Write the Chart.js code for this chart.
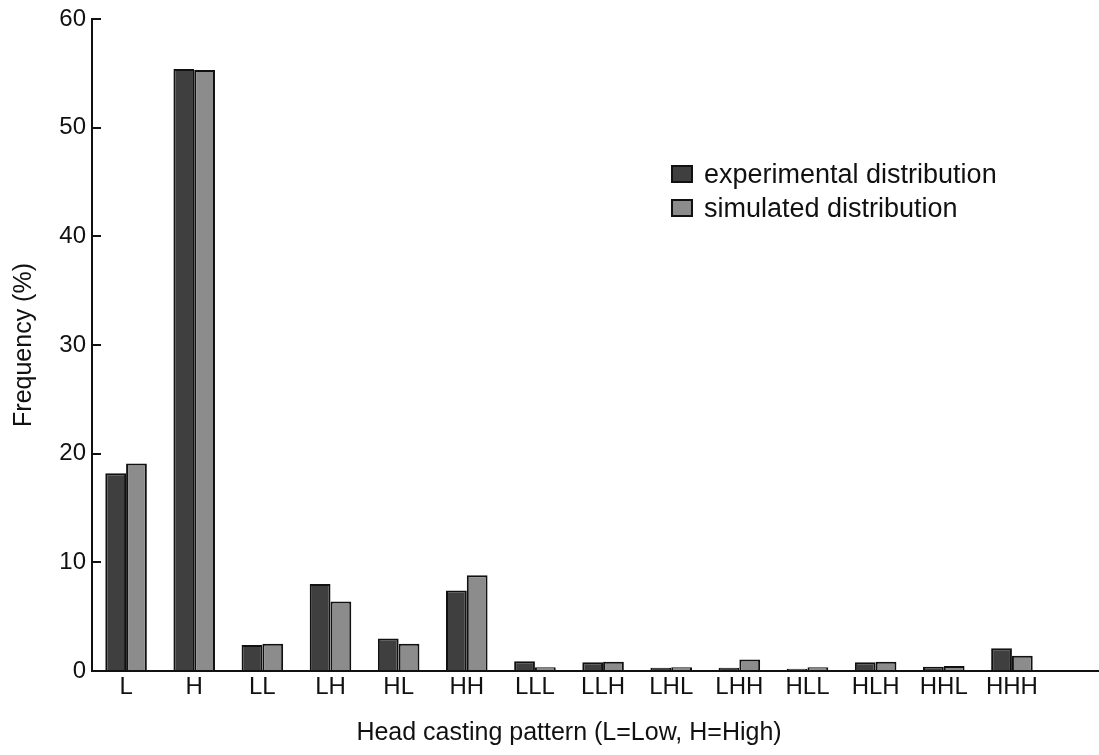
<!DOCTYPE html>
<html>
<head>
<meta charset="utf-8">
<script src="https://cdn.jsdelivr.net/npm/chart.js@4.4.1/dist/chart.umd.min.js"></script>
<style>
  body { margin: 0; background: #fff; }
  #wrap { position: relative; width: 1099px; height: 755px; }
  #legend { position: absolute; left: 671px; top: 157px; font-family: "Liberation Sans", Arial, sans-serif; font-size: 27px; color: #111; }
  #legend .item { display: flex; align-items: center; height: 34px; white-space: nowrap; }
  #legend .box { width: 22px; height: 18px; border: 2px solid #111; box-sizing: border-box; margin-right: 11px; }
</style>
</head>
<body>
<div id="wrap">
  <canvas id="chart" width="1099" height="755"></canvas>
  <div id="legend"></div>
</div>
<script>
// data
var categories = ['L', 'H', 'LL', 'LH', 'HL', 'HH', 'LLL', 'LLH', 'LHL', 'LHH', 'HLL', 'HLH', 'HHL', 'HHH'];
var experimental = [18.2, 55.4, 2.4, 8.0, 3.0, 7.4, 0.9, 0.8, 0.3, 0.3, 0.2, 0.8, 0.4, 2.1];
var simulated = [19.1, 55.3, 2.5, 6.4, 2.5, 8.8, 0.35, 0.85, 0.35, 1.05, 0.35, 0.85, 0.45, 1.4];
var yTicks = [0, 10, 20, 30, 40, 50, 60];

var family = "'Liberation Sans', Arial, sans-serif";
var ink = '#111';

// the x axis line runs on to the right edge in the original
var extendBaseline = {
    id: 'extendBaseline',
    afterDraw: function(chart) {
        var ctx = chart.ctx;
        var area = chart.chartArea;
        ctx.save();
        ctx.strokeStyle = ink;
        ctx.lineWidth = 2;
        ctx.beginPath();
        ctx.moveTo(area.right - 1, area.bottom);
        ctx.lineTo(chart.width, area.bottom);
        ctx.stroke();
        ctx.restore();
    }
};

var chart = new Chart(document.getElementById('chart').getContext('2d'), {
    type: 'bar',
    data: {
        labels: categories,
        datasets: [{
            label: 'experimental distribution',
            data: experimental,
            backgroundColor: '#3f3f3f',
            borderColor: ink,
            borderWidth: 2,
            barPercentage: 1,
            categoryPercentage: 0.61
        }, {
            label: 'simulated distribution',
            data: simulated,
            backgroundColor: '#8c8c8c',
            borderColor: ink,
            borderWidth: 2,
            barPercentage: 1,
            categoryPercentage: 0.61
        }]
    },
    options: {
        responsive: false,
        animation: false,
        devicePixelRatio: 1,
        layout: { padding: { top: 19, right: 53, left: 0, bottom: 0 } },
        plugins: {
            legend: { display: false },
            tooltip: { enabled: false }
        },
        scales: {
            x: {
                grid: { display: false, drawTicks: false },
                border: { color: ink, width: 2 },
                ticks: { padding: 2, color: ink, autoSkip: false, maxRotation: 0, font: { family: family, size: 24 } },
                title: {
                    display: true,
                    text: 'Head casting pattern (L=Low, H=High)',
                    color: ink,
                    font: { family: family, size: 25 },
                    padding: { top: 0, bottom: 7 }
                },
                afterFit: function(scale) {
                    scale.height = 84;
                    scale.paddingLeft = 0;
                    scale.paddingRight = 0;
                }
            },
            y: {
                min: 0,
                max: 60,
                afterBuildTicks: function(scale) {
                    scale.ticks = yTicks.map(function(v) { return { value: v }; });
                },
                grid: { drawOnChartArea: false, drawTicks: true, tickLength: -9, color: ink, lineWidth: 2 },
                border: { color: ink, width: 2 },
                ticks: { padding: 15, color: ink, font: { family: family, size: 24 } },
                title: {
                    display: true,
                    text: 'Frequency (%)',
                    color: ink,
                    font: { family: family, size: 25 },
                    padding: { top: 9, bottom: 0 }
                },
                afterFit: function(scale) {
                    scale.width = 92;
                    scale.paddingTop = 0;
                    scale.paddingBottom = 0;
                }
            }
        }
    },
    plugins: [extendBaseline]
});

// legend as html, built from the datasets
var legendEl = document.getElementById('legend');
chart.data.datasets.forEach(function(ds) {
    var item = document.createElement('div');
    item.className = 'item';
    var box = document.createElement('span');
    box.className = 'box';
    box.style.background = ds.backgroundColor;
    var text = document.createElement('span');
    text.textContent = ds.label;
    item.appendChild(box);
    item.appendChild(text);
    legendEl.appendChild(item);
});
</script>
</body>
</html>
